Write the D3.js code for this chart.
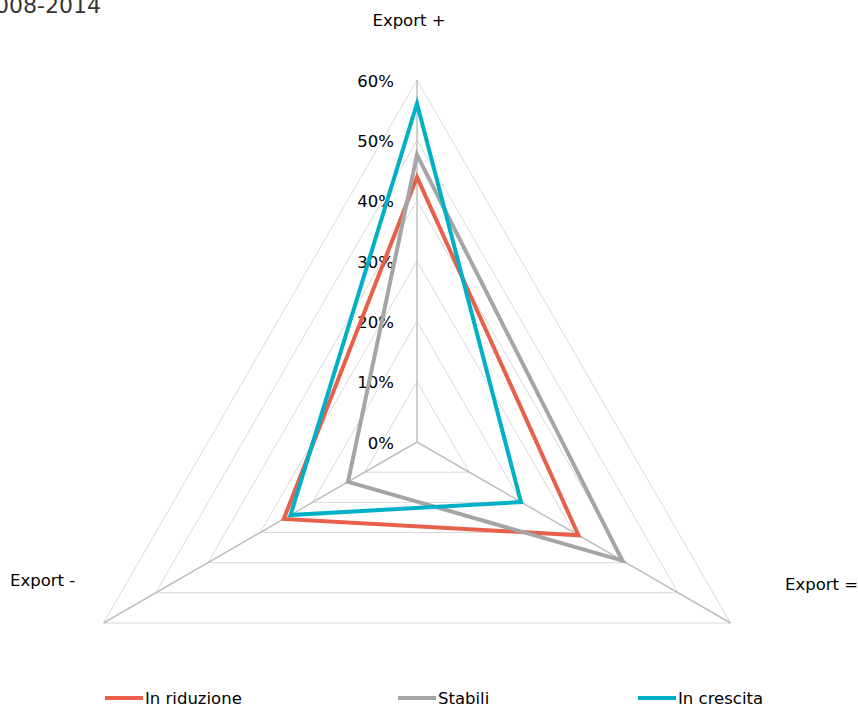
<!DOCTYPE html>
<html><head><meta charset="utf-8">
<script src="https://cdn.jsdelivr.net/npm/d3@7"></script>
<style>body{margin:0;background:#fff;}svg{display:block;font-family:"DejaVu Sans",Verdana,sans-serif;}</style>
</head><body>
<svg id="c" width="858" height="711"></svg>
<script>
const axesLabels = ["Export +", "Export =", "Export -"];
const seriesNames = ["In riduzione", "Stabili", "In crescita"];
const inRiduzione = [43.9, 30.9, 25.5];
const stabili = [47.6, 39.3, 13.2];
const inCrescita = [56.1, 19.9, 24.2];
const tickValues = [0, 10, 20, 30, 40, 50, 60];
const colors = ["#E8604C", "#A5A5A5", "#00B0C7"];

const svg = d3.select("#c");
const cx = 417, cy = 442, R = 362;
const r = d3.scaleLinear().domain([0, 60]).range([0, R]);
const angle = i => -Math.PI / 2 + i * 2 * Math.PI / 3;
const pt = (i, v) => [cx + r(v) * Math.cos(angle(i)), cy + r(v) * Math.sin(angle(i))];
const FS = 16.5;

// grid
tickValues.slice(1).forEach(t => {
  svg.append("polygon")
    .attr("points", [0,1,2].map(i => pt(i, t).join(",")).join(" "))
    .attr("fill", "none").attr("stroke", "#D9D9D9").attr("stroke-width", 1);
});
// axes
[0,1,2].forEach(i => {
  const p = pt(i, 60);
  svg.append("line").attr("x1", cx).attr("y1", cy).attr("x2", p[0]).attr("y2", p[1])
    .attr("stroke", "#BFBFBF").attr("stroke-width", 1.5);
});
// tick labels
tickValues.forEach(t => {
  svg.append("text").attr("x", 394).attr("y", cy - r(t) + 1).attr("dy", "0.35em")
    .attr("text-anchor", "end").attr("font-size", FS).attr("fill", "#000").text(t + "%");
});
// series
const data = [inRiduzione, stabili, inCrescita];
const line = d3.line().curve(d3.curveLinearClosed);
data.forEach((vals, s) => {
  svg.append("path").attr("d", line(vals.map((v, i) => pt(i, v))))
    .attr("fill", "none").attr("stroke", colors[s]).attr("stroke-width", 4)
    .attr("stroke-linejoin", "miter");
});
// axis labels
svg.append("text").attr("x", 409).attr("y", 26).attr("text-anchor", "middle").attr("font-size", FS).text(axesLabels[0]);
svg.append("text").attr("x", 785).attr("y", 590).attr("text-anchor", "start").attr("font-size", FS).text(axesLabels[1]);
svg.append("text").attr("x", 10).attr("y", 586).attr("text-anchor", "start").attr("font-size", FS).text(axesLabels[2]);
// title (cut at top-left edge as in reference)
svg.append("text").attr("x", 101).attr("y", 13).attr("text-anchor", "end").attr("font-size", 22).attr("fill", "#333").text("Andamento dell'export 2008-2014");
// legend
const legX = [105, 398, 638];
seriesNames.forEach((n, s) => {
  svg.append("line").attr("x1", legX[s]).attr("x2", legX[s] + 38).attr("y1", 698).attr("y2", 698)
    .attr("stroke", colors[s]).attr("stroke-width", 4);
  svg.append("text").attr("x", legX[s] + 40).attr("y", 698).attr("dy", "0.35em").attr("font-size", FS).text(n);
});
</script>
</body></html>
